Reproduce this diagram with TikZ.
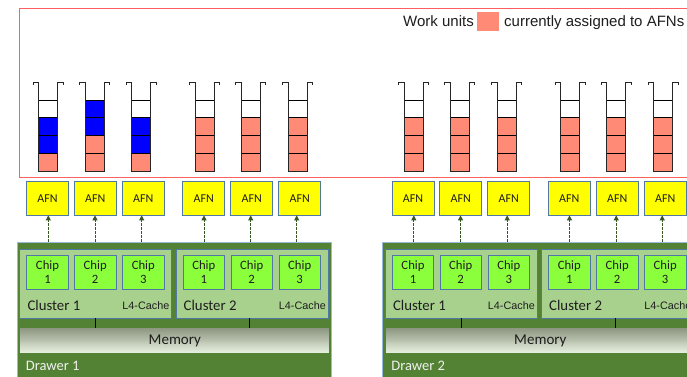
\documentclass[tikz,border=0pt]{standalone}
\usepackage{fontspec}
\setmainfont{Carlito}
\newfontfamily\arialfont{Liberation Sans}
\usetikzlibrary{arrows.meta}

\definecolor{unitsalmon}{RGB}{255,138,117}
\definecolor{unitblue}{RGB}{0,0,255}
\definecolor{framered}{RGB}{255,95,95}
\definecolor{afnyellow}{RGB}{255,255,0}
\definecolor{boxedge}{RGB}{80,120,165}
\definecolor{drawergreen}{RGB}{84,130,53}
\definecolor{draweredge}{RGB}{150,185,220}
\definecolor{clustergreen}{RGB}{169,209,142}
\definecolor{chipgreen}{RGB}{140,255,60}
\definecolor{arrowgreen}{RGB}{56,87,35}
\definecolor{memdark}{RGB}{140,150,128}
\definecolor{memlight}{RGB}{228,238,220}
\definecolor{textdark}{RGB}{30,30,30}

\begin{document}
\begin{tikzpicture}[x=1pt,y=-1pt,
  cell/.style={draw=black, line width=0.9pt, minimum width=19, minimum height=17.75, inner sep=0},
  tube/.style={draw=black!85, line width=1pt},
  afnbox/.style={draw=boxedge, line width=0.8pt, fill=afnyellow, minimum width=42, minimum height=33.3,
    inner sep=0, text=textdark, font=\fontsize{12}{14}\selectfont},
  drawerbox/.style={draw=draweredge, line width=1.2pt, fill=drawergreen, minimum width=314.3, minimum height=150,
    inner sep=0, anchor=north west},
  clusterbox/.style={draw=boxedge, line width=0.7pt, fill=clustergreen, minimum width=152, minimum height=68.7,
    inner sep=0, anchor=north west},
  chipbox/.style={draw=boxedge, line width=0.8pt, fill=chipgreen, minimum width=41.6, minimum height=34,
    inner sep=0, align=center, text=textdark, font=\fontsize{12.7}{14}\selectfont},
  membox/.style={minimum width=309.3, minimum height=25.6, inner sep=0, anchor=north west,
    text=textdark, font=\fontsize{15}{18}\selectfont},
  afnarrow/.style={draw=arrowgreen, line width=0.9pt, dashed, dash pattern=on 2.5pt off 1.5pt,
    -{Triangle[length=5pt,width=5pt]}},
  link/.style={draw=black, line width=0.9pt},
  legendtext/.style={font=\arialfont\fontsize{15}{18}\selectfont, text=textdark, inner sep=0, anchor=base west}
]
\clip (0,0) rectangle (687,376);
\fill[white] (0,0) rectangle (687,376);

% frame holding the work-unit queues
\draw[framered, line width=1pt] (19,8) rectangle (720,177);

% legend
\node[legendtext] (legA) at (403,26.7) {Work units};
\node[fill=unitsalmon, minimum width=22, minimum height=18.7, inner sep=0] (legbox) at (488,21.3) {};
\node[legendtext] (legB) at (504,26.7) {currently assigned to AFNs};

% queues of work units: centre x and the four cells from top to bottom
\foreach \q/\cx/\ca/\cb/\cc/\cd in {
  1/48.2/white/unitblue/unitblue/unitsalmon,
  2/94.5/unitblue/unitblue/unitsalmon/unitsalmon,
  3/141.2/white/unitblue/unitblue/unitsalmon,
  4/204.5/white/unitsalmon/unitsalmon/unitsalmon,
  5/250.8/white/unitsalmon/unitsalmon/unitsalmon,
  6/297.5/white/unitsalmon/unitsalmon/unitsalmon,
  7/413.5/white/unitsalmon/unitsalmon/unitsalmon,
  8/459.7/white/unitsalmon/unitsalmon/unitsalmon,
  9/506.5/white/unitsalmon/unitsalmon/unitsalmon,
  10/570/white/unitsalmon/unitsalmon/unitsalmon,
  11/616.3/white/unitsalmon/unitsalmon/unitsalmon,
  12/663/white/unitsalmon/unitsalmon/unitsalmon}{
  \node[cell, fill=\ca] (q\q-1) at (\cx,108.9) {};
  \node[cell, fill=\cb] (q\q-2) at (\cx,126.6) {};
  \node[cell, fill=\cc] (q\q-3) at (\cx,144.4) {};
  \node[cell, fill=\cd] (q\q-4) at (\cx,162.1) {};
  \draw[tube] ({\cx-15},84.8) -- ({\cx-15},82.7) -- ({\cx-9.5},82.7) -- ({\cx-9.5},171)
              -- ({\cx+9.5},171) -- ({\cx+9.5},82.7) -- ({\cx+15},82.7) -- ({\cx+15},84.8);
}

% two drawers, each with two clusters of three chips
\foreach \d/\ox in {1/0, 2/365.5}{
  \begin{scope}[xshift=\ox]
    \node[drawerbox] (drawer\d) at (16.7,241.7) {};
    \node[clusterbox] (cl\d-1) at (19.3,249) {};
    \node[clusterbox] (cl\d-2) at (175.7,249) {};
    \node[anchor=base west, inner sep=0, text=textdark, font=\fontsize{14.8}{18}\selectfont] (cln\d-1) at (27.3,310) {Cluster 1};
    \node[anchor=base west, inner sep=0, text=textdark, font=\fontsize{14.8}{18}\selectfont] (cln\d-2) at (183.5,310) {Cluster 2};
    \node[anchor=base east, inner sep=0, text=textdark, font=\arialfont\fontsize{10.8}{12}\selectfont] (l4\d-1) at (169.5,309.7) {L4-Cache};
    \node[anchor=base east, inner sep=0, text=textdark, font=\arialfont\fontsize{10.8}{12}\selectfont] (l4\d-2) at (326,309.7) {L4-Cache};
    % memory bar: dark at the top fading to light at the bottom
    \foreach \k [evaluate=\k as \pc using int(\k*4)] in {0,...,25}{
      \fill[memlight!\pc!memdark] (20,{327.7+\k*0.985}) rectangle (329.3,{327.7+\k*0.985+1.1});
    }
    \node[membox] (mem\d) at (20,327.7) {Memory};
    \draw[link] (cl\d-1.south) -- (cl\d-1.south |- mem\d.north);
    \draw[link] ([xshift=-2.4]cl\d-2.south) -- ([xshift=-2.4]cl\d-2.south |- mem\d.north);
    \node[anchor=base west, inner sep=0, text=white!94!black, font=\fontsize{14.5}{18}\selectfont] (dl\d) at (25.7,370) {Drawer \d};
    \foreach \i/\cx/\ax/\n in {1/47.5/48.3/1, 2/95.2/95/2, 3/143.3/141.7/3, 4/203.8/204/1, 5/251.7/250.7/2, 6/299.7/296.7/3}{
      \node[afnbox] (afn\d-\i) at (\cx,198.3) {AFN};
      \node[chipbox] (chip\d-\i) at (\cx,272) {Chip\\\n};
      \coordinate (tap\d-\i) at (\ax,241.7);
      \draw[afnarrow] (tap\d-\i) -- (tap\d-\i |- afn\d-\i.south);
    }
  \end{scope}
}
\end{tikzpicture}
\end{document}
